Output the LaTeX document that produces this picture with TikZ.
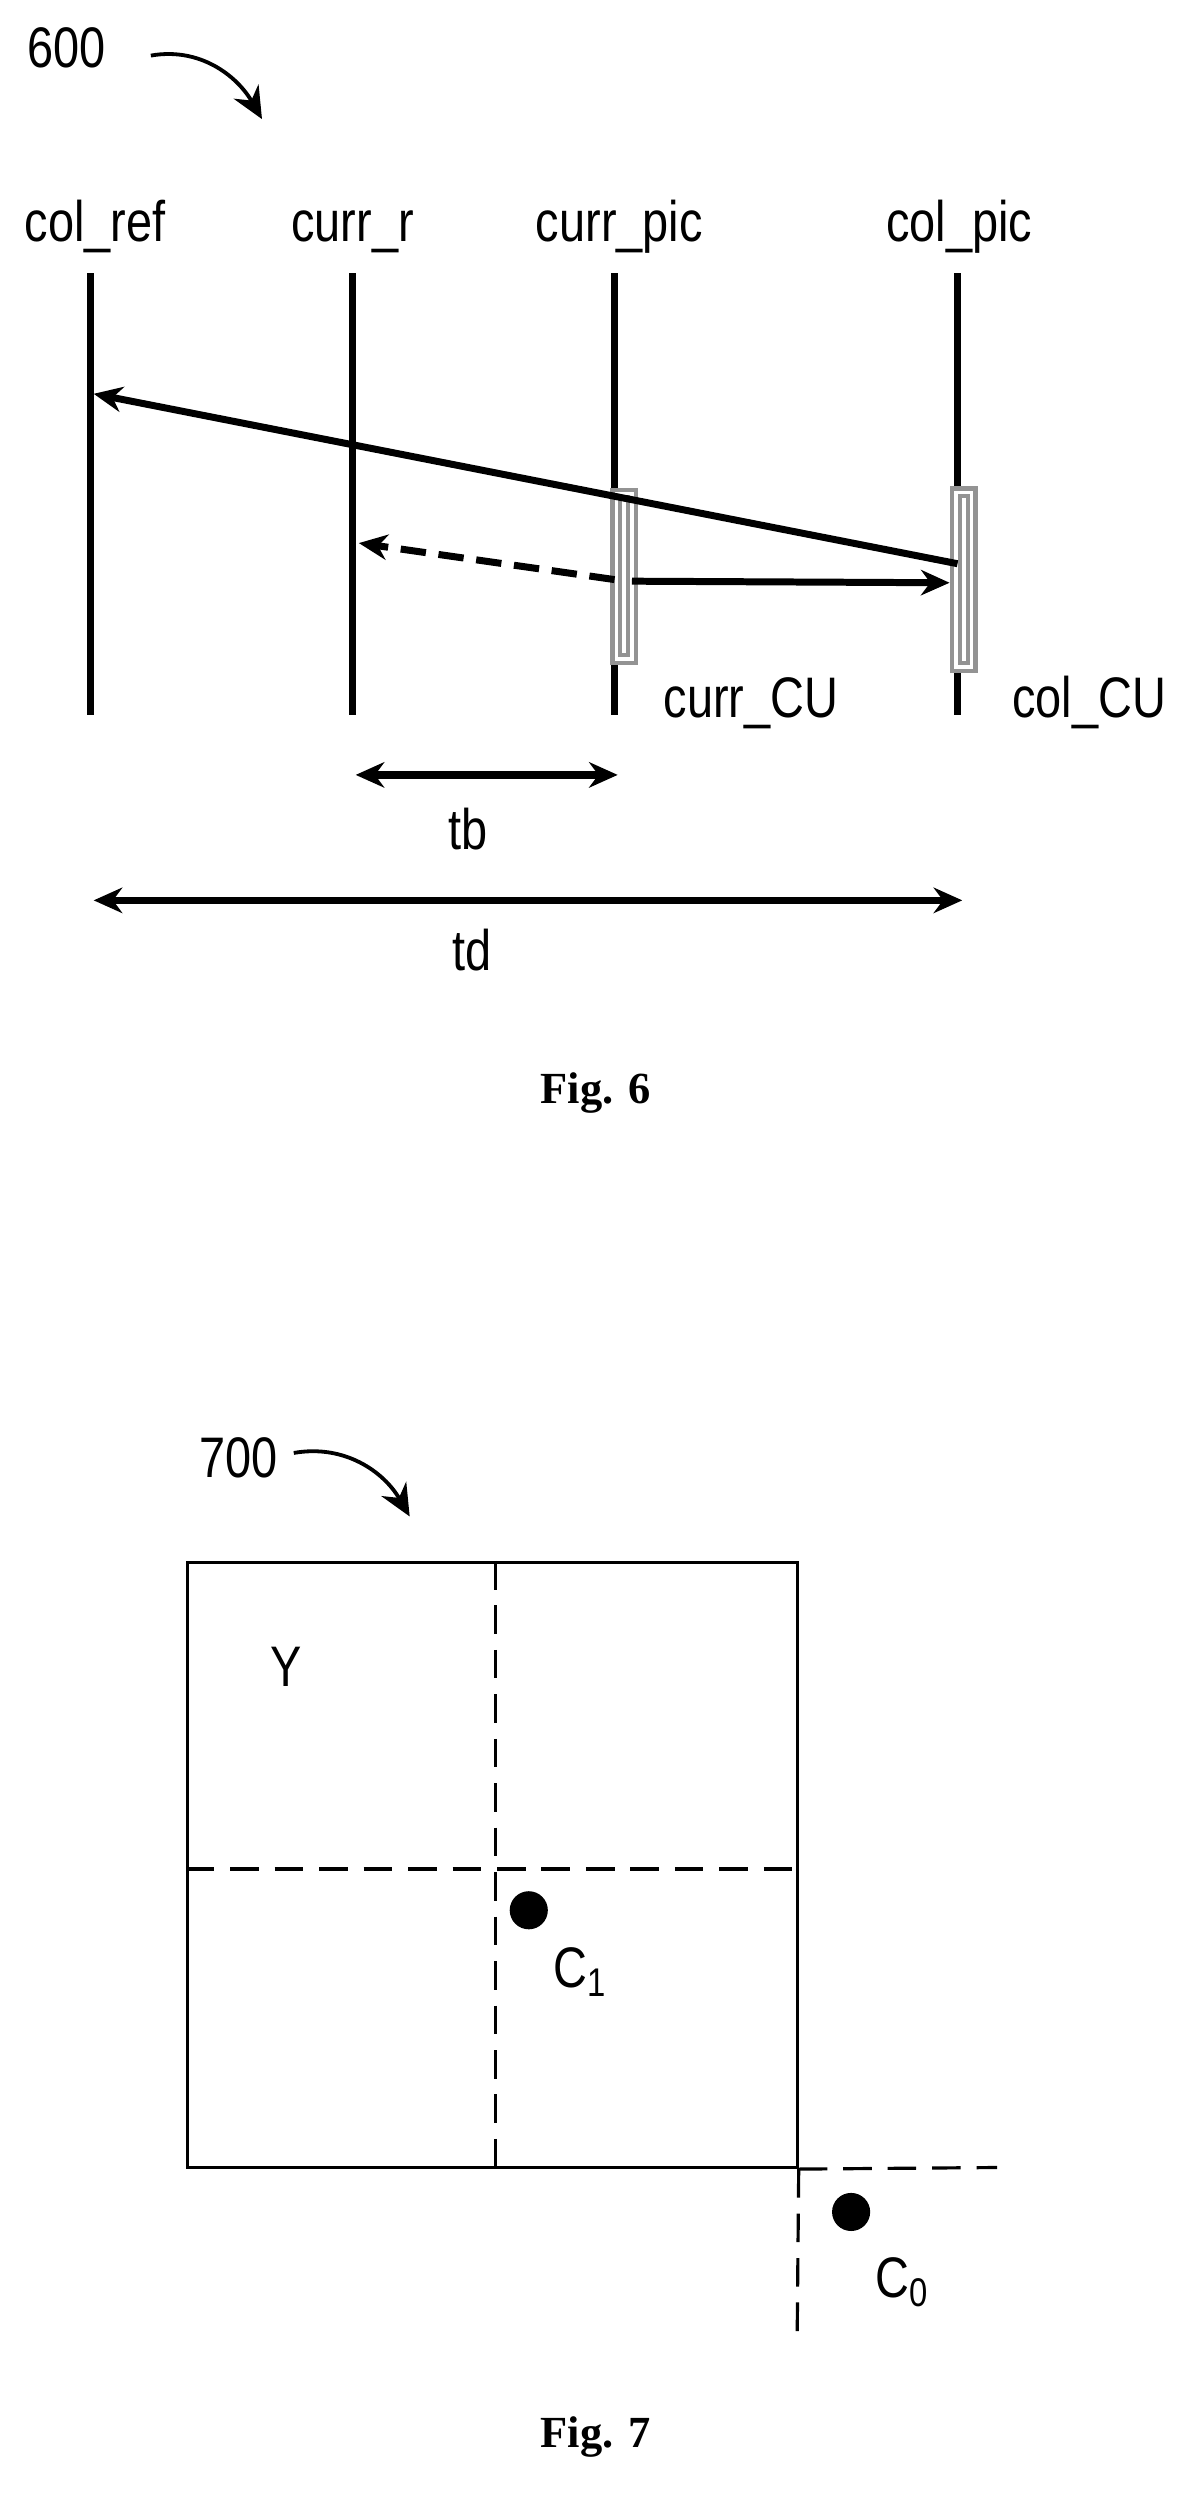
\documentclass[tikz,border=0pt]{standalone}
\usepackage{fontspec}
\setmainfont{Liberation Serif}
\newfontfamily\narrowsf[FakeStretch=0.82]{Liberation Sans}
\usetikzlibrary{arrows.meta,positioning}
\tikzset{
  lbl/.style={font=\narrowsf\fontsize{18}{20}\selectfont, inner sep=0pt},
  hd/.style={lbl, anchor=base},
  figlbl/.style={font=\bfseries\fontsize{14}{16}\selectfont, inner sep=0pt},
  tline/.style={line width=2.2pt},
  arr/.style={line width=2.2pt, -{Stealth[length=9pt,width=8pt]}},
  darr/.style={line width=2.4pt, {Stealth[length=9pt,width=8pt]}-{Stealth[length=9pt,width=8pt]}},
  cu/.style={draw=gray!85, line width=1.4pt, double=white, double distance=1pt},
  dsh/.style={line width=1pt, dash pattern=on 9pt off 5pt},
}
\begin{document}
\begin{tikzpicture}[x=0.5pt,y=-0.5pt]
    \useasboundingbox (0,0) rectangle (750,1570);
    % Fig. 6
    \node[lbl] (n600) at (42,30) {600};
    \coordinate (a6s) at (95,35);
    \coordinate (a6e) at (165,75);
    \draw[line width=1.2pt,-{Stealth[length=10pt,width=9pt]}] (a6s) to[out=10,in=120] (a6e);

    \node[hd] (colref) at (60,152) {col\_ref};
    \node[hd] (currr) at (222,152) {curr\_r};
    \node[hd] (currpic) at (390,152) {curr\_pic};
    \node[hd] (colpic) at (604,152) {col\_pic};

    \foreach \n/\x in {cr/57, rr/222, cp/387, pp/603} {
      \coordinate (\n t) at (\x,172);
      \coordinate (\n b) at (\x,450);
      \draw[tline] (\n t) -- (\n b);
    }

    \node[cu, minimum width=5pt, minimum height=52pt, inner sep=0pt] (currcu) at (393,363) {};
    \node[cu, minimum width=5pt, minimum height=55pt, inner sep=0pt] (colcu) at (607,365) {};
    \node[hd] (currcul) at (473,452) {curr\_CU};
    \node[hd] (colcul) at (686,452) {col\_CU};

    \coordinate (p1) at (603,355);
    \coordinate (p2) at (59,248);
    \coordinate (p3) at (387,365);
    \coordinate (p4) at (226,342);
    \coordinate (p6) at (398,366);
    \coordinate (p5) at (598,367);
    \draw[arr] (p1) -- (p2);
    \draw[arr, dash pattern=on 8pt off 4pt] (p3) -- (p4);
    \draw[arr] (p6) -- (p5);

    \coordinate (tbl) at (224,488);
    \coordinate (tbr) at (389,488);
    \draw[darr] (tbl) -- (tbr);
    \node[lbl] (tb) at (295,522) {tb};
    \coordinate (tdl) at (59,567);
    \coordinate (tdr) at (606,567);
    \draw[darr] (tdl) -- (tdr);
    \node[lbl] (td) at (297,598) {td};
    \node[figlbl] (fig6) at (375,688) {Fig. 6};

    % Fig. 7
    \node[lbl] (n700) at (150,918) {700};
    \coordinate (a7s) at (185,915);
    \coordinate (a7e) at (258,955);
    \draw[line width=1.2pt,-{Stealth[length=10pt,width=9pt]}] (a7s) to[out=10,in=120] (a7e);

    \node[draw, line width=1pt, minimum width=192pt, minimum height=190.5pt, inner sep=0pt] (blk) at (310,1174.5) {};
    \draw[dsh] (blk.north -| 312,0) -- (blk.south -| 312,0);
    \draw[dsh] (blk.west |- 0,1177) -- (blk.east |- 0,1177);
    \node[lbl] (y) at (180,1050) {Y};
    \node[circle, fill, minimum size=12pt, inner sep=0pt] (c1dot) at (333,1203) {};
    \node[lbl, anchor=west] (c1) at (348,1242) {C\textsubscript{1}};
    \coordinate (brx) at (628,1365);
    \coordinate (bry) at (502,1475);
    \draw[dsh] (blk.south east) -- (brx);
    \draw[dsh] (blk.south east) -- (bry);
    \node[circle, fill, minimum size=12pt, inner sep=0pt] (c0dot) at (536,1393) {};
    \node[lbl, anchor=west] (c0) at (551,1437) {C\textsubscript{0}};
    \node[figlbl] (fig7) at (375,1535) {Fig. 7};
\end{tikzpicture}
\end{document}
